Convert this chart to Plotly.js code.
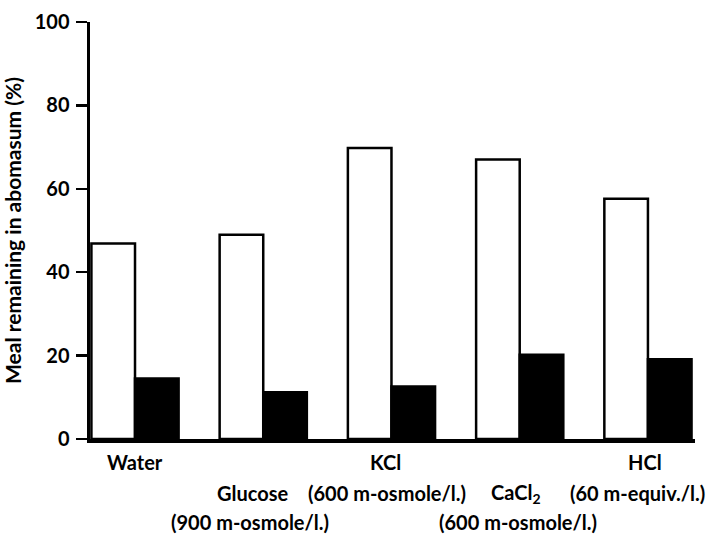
<!DOCTYPE html>
<html>
<head>
<meta charset="utf-8">
<script src="https://cdn.plot.ly/plotly-3.0.1.min.js"></script>
<style>
  html, body { margin: 0; padding: 0; background: #ffffff; }
  #chart { width: 720px; height: 537px; }
</style>
</head>
<body>
<div id="chart"></div>
<script>
// ---- data ----
const categories = ['Water', 'Glucose', 'KCl', 'CaCl<sub>2</sub>', 'HCl'];
const concentrations = ['', '(900 m-osmole/l.)', '(600 m-osmole/l.)', '(600 m-osmole/l.)', '(60 m-equiv./l.)'];
const openBarValues = [46.9, 49.0, 69.8, 67.0, 57.6];
const filledBarValues = [14.5, 11.2, 12.6, 20.2, 19.1];
const yTickValues = [0, 20, 40, 60, 80, 100];

// ---- layout helpers (positions / styles) ----
const positions = categories.map((c, i) => i);
const nameRow = [0, 1, 0, 1, 0];
const nameShift = [0, -11, -6, -4, -3];
const concShift = [0, -13, -4, -2, -10];
const rowOffset = [-23, -54, -83];
const fontFamily = 'Lato, "Open Sans", "DejaVu Sans", sans-serif';

const traces = [
  {
    type: 'bar',
    x: positions,
    y: openBarValues,
    marker: { color: '#ffffff', line: { color: '#000000', width: 2.5 } },
    hoverinfo: 'skip',
    showlegend: false
  },
  {
    type: 'bar',
    x: positions,
    y: filledBarValues,
    marker: { color: '#000000', line: { color: '#000000', width: 2.5 } },
    hoverinfo: 'skip',
    showlegend: false
  }
];

const annotations = [];
categories.forEach((name, i) => {
  annotations.push({
    x: positions[i], xref: 'x', y: 0, yref: 'paper',
    text: name, showarrow: false, xanchor: 'center', yanchor: 'middle',
    xshift: nameShift[i], yshift: rowOffset[nameRow[i]],
    font: { family: fontFamily, size: 20, color: '#000', weight: 'bold' }
  });
  if (concentrations[i]) {
    annotations.push({
      x: positions[i], xref: 'x', y: 0, yref: 'paper',
      text: concentrations[i], showarrow: false, xanchor: 'center', yanchor: 'middle',
      xshift: concShift[i], yshift: rowOffset[nameRow[i] + 1],
      font: { family: fontFamily, size: 20, color: '#000', weight: 'bold' }
    });
  }
});

const layout = {
  width: 720,
  height: 537,
  margin: { l: 90, r: 25, t: 22, b: 98 },
  paper_bgcolor: '#ffffff',
  plot_bgcolor: '#ffffff',
  barmode: 'group',
  bargap: 0.32,
  bargroupgap: 0,
  font: { family: fontFamily, color: '#000' },
  xaxis: {
    range: [-0.351, 4.367],
    showgrid: false,
    zeroline: false,
    showline: true,
    linecolor: '#000',
    linewidth: 4,
    showticklabels: false,
    ticks: '',
    fixedrange: true
  },
  yaxis: {
    range: [0, 100],
    tickvals: yTickValues,
    ticktext: yTickValues.map(String),
    showgrid: false,
    zeroline: false,
    showline: true,
    linecolor: '#000',
    linewidth: 3.5,
    ticks: 'outside',
    ticklen: 11,
    tickwidth: 2.5,
    tickcolor: '#000',
    ticklabelstandoff: 2,
    tickfont: { family: fontFamily, size: 20, color: '#000', weight: 'bold' },
    title: {
      text: 'Meal remaining in abomasum (%)',
      font: { family: fontFamily, size: 21, color: '#000', weight: 'bold' },
      standoff: 8
    },
    fixedrange: true
  },
  annotations: annotations
};

Plotly.newPlot('chart', traces, layout, { displayModeBar: false, staticPlot: true });
</script>
</body>
</html>
